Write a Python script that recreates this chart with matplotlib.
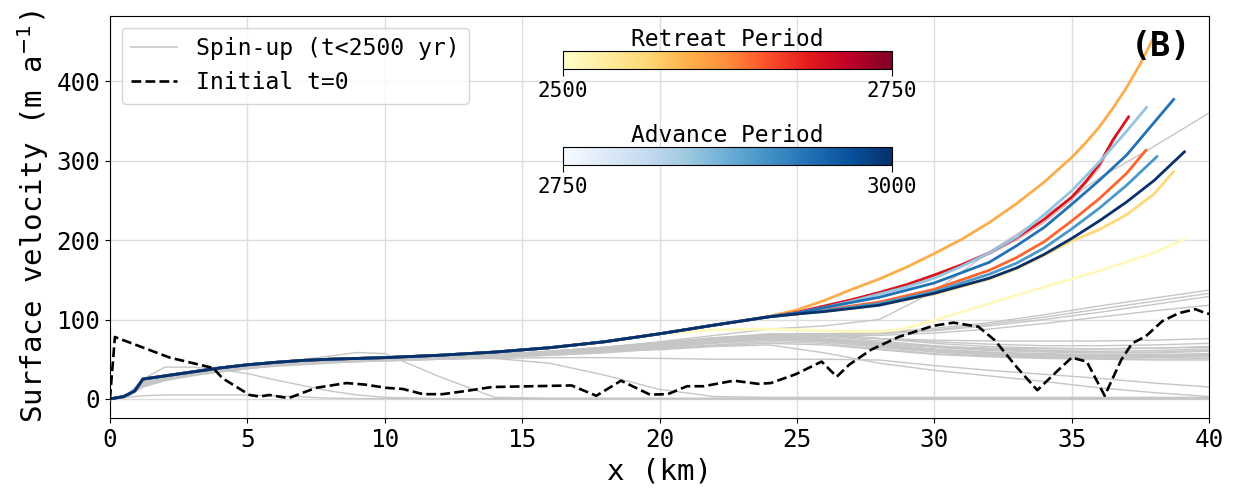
import matplotlib.pyplot as plt
import matplotlib as mpl
from matplotlib.lines import Line2D

plt.rcParams['font.family'] = ['DejaVu Sans Mono', 'DejaVu Sans']

# x positions (km) for the spin-up profiles
GX = [0, 0.6, 1.2, 2, 3, 4, 5, 6, 8, 9, 10, 12, 14, 16, 18, 20, 22, 24, 26, 28, 30, 32, 34, 36, 38, 40]

# spin-up velocity profiles (m/a), t < 2500 yr
spin_b01 = [0, 4, 22, 30, 35, 39, 43, 45, 49, 50, 51, 53, 56, 60, 65, 71, 77, 82, 82, 76, 70, 66, 64, 63, 64, 66]
spin_b02 = [0, 4, 21, 29, 34, 38, 42, 45, 48, 50, 51, 53, 56, 59, 64, 70, 75, 80, 79, 73, 67, 63, 61, 60, 61, 63]
spin_b03 = [0, 3, 20, 28, 33, 37, 41, 44, 48, 49, 50, 52, 55, 58, 63, 68, 73, 78, 77, 71, 65, 61, 59, 58, 58, 60]
spin_b04 = [0, 3, 19, 27, 32, 36, 40, 43, 47, 49, 50, 52, 54, 57, 62, 67, 72, 76, 75, 69, 63, 59, 57, 56, 56, 57]
spin_b05 = [0, 3, 18, 26, 31, 35, 39, 43, 47, 48, 49, 51, 54, 57, 61, 66, 71, 75, 73, 67, 61, 57, 55, 54, 54, 55]
spin_b06 = [0, 3, 17, 25, 30, 35, 39, 42, 46, 48, 49, 51, 53, 56, 60, 65, 70, 74, 72, 65, 59, 55, 53, 52, 52, 53]
spin_b07 = [0, 2, 16, 24, 30, 34, 38, 42, 46, 47, 48, 50, 53, 55, 59, 64, 68, 72, 70, 63, 57, 54, 52, 51, 50, 51]
spin_b08 = [0, 2, 15, 23, 29, 34, 38, 41, 45, 47, 48, 50, 52, 55, 58, 63, 67, 70, 68, 62, 56, 53, 51, 50, 49, 49]
spin_b09 = [0, 3, 20, 28, 34, 38, 42, 45, 48, 50, 51, 53, 56, 59, 64, 69, 74, 79, 80, 76, 72, 69, 67, 67, 68, 70]
spin_b10 = [0, 3, 19, 27, 33, 37, 41, 44, 48, 49, 50, 52, 55, 58, 62, 68, 72, 76, 74, 70, 66, 64, 63, 63, 64, 65]
spin_b11 = [0, 3, 21, 29, 34, 38, 42, 45, 49, 50, 51, 53, 56, 59, 64, 70, 75, 80, 79, 76, 74, 73, 73, 73, 74, 76]
spin_b12 = [0, 3, 20, 28, 33, 38, 42, 45, 48, 50, 51, 53, 55, 58, 63, 69, 74, 78, 76, 71, 66, 62, 60, 59, 59, 61]
spin_b13 = [0, 2, 18, 26, 32, 36, 40, 43, 47, 49, 50, 52, 54, 57, 61, 66, 71, 75, 72, 66, 60, 56, 54, 53, 53, 54]
spin_b14 = [0, 3, 19, 27, 33, 37, 41, 44, 48, 49, 50, 52, 55, 58, 63, 68, 73, 77, 75, 68, 62, 58, 56, 55, 55, 56]
spin_u1 = [0, 4, 22, 30, 35, 39, 43, 46, 49, 50, 51, 53, 56, 60, 65, 71, 77, 81, 82, 84, 89, 96, 106, 117, 127, 137]
spin_u2 = [0, 4, 22, 30, 35, 39, 43, 46, 49, 50, 51, 53, 56, 60, 65, 71, 76, 80, 81, 83, 87, 94, 103, 113, 123, 133]
spin_u3 = [0, 4, 21, 29, 34, 38, 42, 45, 49, 50, 51, 53, 56, 59, 64, 70, 75, 79, 80, 82, 86, 92, 100, 109, 119, 129]
spin_u4 = [0, 4, 21, 29, 34, 38, 42, 45, 48, 50, 51, 53, 56, 59, 64, 69, 74, 78, 79, 80, 83, 88, 95, 103, 111, 118]
spin_steep = [0, 4, 22, 30, 35, 39, 43, 46, 49, 50, 51, 53, 56, 60, 65, 72, 80, 88, 92, 100, 135, 185, 230, 278, 318, 360]
spin_c1 = [0, 4, 25, 40, 40, 37, 32, 24, 10, 5, 2, 0.5, 0.3, 0.3, 0.3, 0.3, 0.3, 0.3, 0.3, 0.3, 0.3, 0.3, 0.3, 0.3, 0.3, 0.3]
spin_c2 = [0, 4, 21, 29, 34, 38, 42, 45, 54, 58.5, 57, 28, 2, 1, 1, 1, 1, 1, 1, 1, 1, 1, 1, 1, 1, 1]
spin_c3 = [0, 3, 20, 28, 33, 37, 41, 44, 48, 49, 50, 52, 51, 45, 30, 12, 3, 2, 2, 2, 2, 2, 2, 2, 2, 2]
spin_c4 = [0, 3, 19, 27, 32, 36, 40, 43, 46, 47, 48, 50, 51, 52, 52, 51, 50, 50, 50, 49, 42, 36, 31, 26, 20, 15]
spin_c5 = [0, 3, 19, 27, 32, 36, 40, 43, 47, 48, 49, 51, 54, 57, 60, 62, 66, 68, 58, 45, 36, 29, 22, 14, 8, 3]
spin_c6 = [0, 2, 4, 5, 5, 5, 5, 4, 1, 0.5, 0.3, 0, 0, 0, 0, 0, 0, 0, 0, 0, 0, 0, 0, 0, 0, 0]

spinup = [spin_b01, spin_b02, spin_b03, spin_b04, spin_b05, spin_b06, spin_b07,
          spin_b08, spin_b09, spin_b10, spin_b11, spin_b12, spin_b13, spin_b14,
          spin_u1, spin_u2, spin_u3, spin_u4, spin_steep,
          spin_c1, spin_c2, spin_c3, spin_c4, spin_c5, spin_c6]

# initial profile t=0
init_x = [0, 0.18, 2.18, 3.75, 4.1, 5.08, 5.45, 5.8, 6.5, 7.5, 8.6, 9.3, 10.05, 10.65, 11.4,
          12.1, 12.95, 13.9, 16.8, 17.1, 17.7, 18.6, 19.65, 20.3, 21.0, 21.6, 22.7, 23.6,
          24.05, 24.95, 25.9, 26.45, 26.9, 27.7, 28.7, 29.95, 30.7, 31.6, 32.2, 33.0, 33.75,
          34.5, 35.0, 35.55, 36.2, 36.8, 37.2, 37.7, 38.3, 38.9, 39.5, 39.8, 40]
init_y = [0, 78, 52, 39, 26, 5, 3, 5, 1, 14, 20, 18, 14, 12.6, 6,
          6, 10, 15, 17, 12.6, 4, 23, 5.5, 6, 16, 16, 23, 19,
          20, 31, 47, 28, 43, 62, 78, 92, 96, 91, 74, 40, 11,
          36, 52, 47, 4, 49, 70, 79, 98, 108, 113, 109, 107]

# shared upstream part of the retreat/advance profiles
trunk_x = [0, 0.5, 0.9, 1.2, 2, 3, 4, 5, 6, 7, 8, 10, 12, 14, 16, 18, 20]
trunk_y = [0, 3, 10, 25, 29, 34, 39, 43, 46, 48.5, 50, 52, 55, 59, 64.5, 72, 82]

# retreat period profiles (downstream part)
retreat_years = [2510, 2562, 2600, 2645, 2695]
ret_x_2510 = [22, 24, 26, 27, 28, 28.7, 29.3, 30, 32, 34, 36, 38, 39.1]
ret_y_2510 = [87, 88, 86, 85, 85, 87, 92, 99, 120, 141, 161, 184, 201]
ret_x_2562 = [22, 24, 25, 26, 28, 30, 32, 33, 34, 35, 36, 37, 38, 38.7]
ret_y_2562 = [93, 103.5, 107, 110, 118, 132, 151, 164, 181, 199, 213, 232, 258, 286]
ret_x_2600 = [22, 24, 25, 26, 27, 28, 29, 30, 31, 32, 33, 34, 35, 35.5, 36, 36.5, 37, 37.5, 38]
ret_y_2600 = [93, 104, 112, 124, 138, 151, 166, 183, 201, 222, 246, 273, 304, 322, 342, 366, 392, 422, 456]
ret_x_2645 = [22, 24, 25, 26, 28, 30, 32, 33, 34, 35, 36, 37, 37.7]
ret_y_2645 = [93, 103.5, 107, 112, 122, 138, 162, 178, 198, 224, 252, 284, 313]
ret_x_2695 = [22, 24, 25, 26, 27, 28, 29, 30, 31, 32, 33, 34, 35, 35.5, 36, 36.5, 37.07]
ret_y_2695 = [93, 103.5, 109, 117, 125, 134, 144, 156, 169, 184, 203, 226, 254, 273, 295, 326, 355]
retreat_x = [ret_x_2510, ret_x_2562, ret_x_2600, ret_x_2645, ret_x_2695]
retreat_y = [ret_y_2510, ret_y_2562, ret_y_2600, ret_y_2645, ret_y_2695]

# faint profile near the end of the retreat
faint_x = [31, 32, 33, 34, 35, 36, 36.7]
faint_y = [167, 182, 200, 222, 250, 290, 335]

# advance period profiles (downstream part)
advance_years = [2850, 2900, 2937, 3000]
adv_x_2850 = [22, 24, 25, 26, 27, 28, 29, 30, 31, 32, 33, 34, 35, 36, 37, 37.72]
adv_y_2850 = [93, 103.5, 108, 115, 123, 132, 141, 152, 167, 184, 204, 232, 262, 298, 337, 367]
adv_x_2900 = [22, 24, 25, 26, 28, 30, 32, 33, 34, 35, 36, 37, 38.1]
adv_y_2900 = [93, 103.5, 107, 111, 120, 135, 157, 171, 190, 214, 240, 269, 305]
adv_x_2937 = [22, 24, 25, 26, 28, 30, 32, 33, 34, 35, 36, 37, 38, 38.71]
adv_y_2937 = [93, 103.5, 108, 115, 128, 146, 172, 193, 216, 245, 275, 307, 348, 377]
adv_x_3000 = [22, 24, 25, 26, 28, 30, 32, 33, 34, 35, 36, 37, 38, 39.1]
adv_y_3000 = [93, 103.5, 107, 110, 118, 133, 152, 165, 182, 202, 224, 248, 275, 311]
advance_x = [adv_x_2850, adv_x_2900, adv_x_2937, adv_x_3000]
advance_y = [adv_y_2850, adv_y_2900, adv_y_2937, adv_y_3000]

fig = plt.figure(figsize=(12.34, 4.93), dpi=100)
ax = fig.add_axes([0.0891, 0.1521, 0.8907, 0.8154])

grey = '#c6c6c6'
for ys in spinup:
    ax.plot(GX, ys, color=grey, lw=1.0, zorder=1)

ret_cmap = plt.get_cmap('YlOrRd')
adv_cmap = plt.get_cmap('Blues')
ret_norm = mpl.colors.Normalize(2500, 2750)
adv_norm = mpl.colors.Normalize(2750, 3000)

for yr, xs, ys in zip(retreat_years, retreat_x, retreat_y):
    ax.plot(trunk_x + xs, trunk_y + ys, color=ret_cmap(ret_norm(yr)), lw=2, zorder=3)
ax.plot(faint_x, faint_y, color=ret_cmap(0.9), lw=0.8, alpha=0.35, zorder=3)
for yr, xs, ys in zip(advance_years, advance_x, advance_y):
    ax.plot(trunk_x + xs, trunk_y + ys, color=adv_cmap(adv_norm(yr)), lw=2, zorder=4)

ax.plot(init_x, init_y, color='k', ls='--', lw=1.9, zorder=5)

ax.set_xlim(0, 40)
ax.set_ylim(-24, 482)
ax.set_xticks(range(0, 41, 5))
ax.set_yticks(range(0, 401, 100))
ax.tick_params(labelsize=17.5)
ax.grid(True, color='#dddddd', lw=1)
ax.set_axisbelow(True)
ax.set_xlabel('x (km)', fontsize=21)
ax.set_ylabel('Surface velocity (m a$^{-1}$)', fontsize=21)

handles = [Line2D([], [], color=grey, lw=1.2),
           Line2D([], [], color='k', ls='--', lw=1.9)]
ax.legend(handles, ['Spin-up (t<2500 yr)', 'Initial t=0'], loc='upper left', fontsize=16.7)

ax.text(0.984, 0.925, '(B)', transform=ax.transAxes, ha='right', va='center',
        fontsize=24, fontweight='bold')

cax1 = fig.add_axes([0.456, 0.860, 0.2666, 0.0365])
cb1 = fig.colorbar(mpl.cm.ScalarMappable(norm=ret_norm, cmap=ret_cmap), cax=cax1,
                   orientation='horizontal', ticks=[2500, 2750])
cax1.set_title('Retreat Period', fontsize=16.5, pad=3)
cax1.tick_params(labelsize=15, length=5)

cax2 = fig.add_axes([0.456, 0.665, 0.2666, 0.0365])
cb2 = fig.colorbar(mpl.cm.ScalarMappable(norm=adv_norm, cmap=adv_cmap), cax=cax2,
                   orientation='horizontal', ticks=[2750, 3000])
cax2.set_title('Advance Period', fontsize=16.5, pad=3)
cax2.tick_params(labelsize=15, length=5)

fig.savefig('out.png', dpi=100)
